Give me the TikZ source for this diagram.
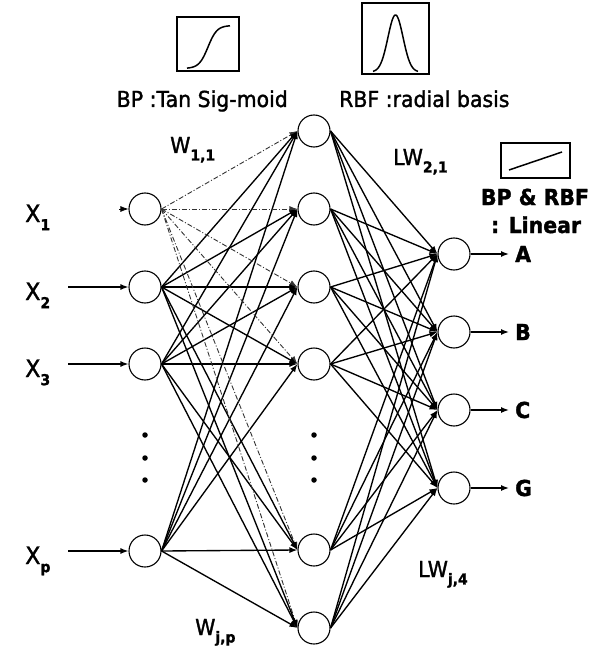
\documentclass[tikz,border=0pt]{standalone}
\usepackage{fontspec}
\setmainfont{DejaVu Sans}[FakeStretch=0.93,FakeBold=1.5]
\usetikzlibrary{arrows.meta}
% small bold subscript placed after a letter
\newcommand\lsub[1]{\raisebox{-0.34em}{\fontsize{15}{15}\selectfont\bfseries #1}}
\begin{document}
\begin{tikzpicture}[x=1pt,y=-1pt,
  neuron/.style={circle,draw,line width=1.1pt,minimum size=32pt,inner sep=0pt,fill=white},
  link/.style={line width=1.35pt,-{Latex[length=8pt,width=6pt]}},
  weak/.style={line width=0.9pt,black!80,dash pattern=on 5pt off 2pt on 1pt off 2pt,-{Latex[length=8pt,width=6pt]}},
  lbl/.style={font=\fontsize{22}{22}\selectfont,inner sep=0pt},
  xlbl/.style={font=\fontsize{24}{24}\selectfont,inner sep=0pt,anchor=base west},
  olbl/.style={font=\fontsize{22}{22}\selectfont\bfseries,inner sep=0pt,anchor=west},
  fbox/.style={draw,line width=1.2pt},
  curve/.style={line width=1.5pt},
  dot/.style={circle,fill,inner sep=0pt,minimum size=5.5pt}]
\useasboundingbox (0,0) rectangle (600,647);

% input layer
\node[neuron] (i1) at (145,209) {};
\node[neuron] (i2) at (145,287) {};
\node[neuron] (i3) at (145,364) {};
\node[neuron] (ip) at (145,551) {};
% hidden layer
\node[neuron] (h1) at (314,131) {};
\node[neuron] (h2) at (314,209) {};
\node[neuron] (h3) at (314,287) {};
\node[neuron] (h4) at (314,364) {};
\node[neuron] (h5) at (314,550) {};
\node[neuron] (h6) at (314,628) {};
% output layer
\node[neuron] (oA) at (454,254) {};
\node[neuron] (oB) at (454,332) {};
\node[neuron] (oC) at (454,410) {};
\node[neuron] (oG) at (454,488) {};

% ellipsis dots in the input and hidden columns
\foreach \yy [count=\k] in {435,458,480} {
  \node[dot] (di\k) at (145,\yy) {};
  \node[dot] (dh\k) at (314,\yy) {};
}

% input labels and input arrows
\node[xlbl] (lx1) at (25,222) {X\lsub{1}};
\node[xlbl] (lx2) at (25,300) {X\lsub{2}};
\node[xlbl] (lx3) at (25,377) {X\lsub{3}};
\node[xlbl] (lxp) at (25,564) {X\lsub{p}};
\coordinate (s1) at (119,209);
\coordinate (s2) at (68,287);
\coordinate (s3) at (68,364);
\coordinate (sp) at (68,551);
\draw[link,line width=0.8pt] (s1) -- (i1.west);
\draw[link] (s2) -- (i2.west);
\draw[link] (s3) -- (i3.west);
\draw[link] (sp) -- (ip.west);

% input -> hidden weights
\foreach \h in {h1,h2,h3,h4,h5,h6} {
  \draw[weak] (i1.east) -- (\h.west);
  \foreach \i in {i2,i3,ip}
    \draw[link] (\i.east) -- (\h.west);
}
% hidden -> output weights
\foreach \h in {h1,h2,h3,h4,h5,h6}
  \foreach \o in {oA,oB,oC,oG}
    \draw[link] (\h.east) -- (\o.west);

% outputs
\coordinate (eA) at (509,254);
\coordinate (eB) at (509,332);
\coordinate (eC) at (509,410);
\coordinate (eG) at (509,488);
\draw[link] (oA.east) -- (eA);
\draw[link] (oB.east) -- (eB);
\draw[link] (oC.east) -- (eC);
\draw[link] (oG.east) -- (eG);
\node[olbl] (tA) at (515,254) {A};
\node[olbl] (tB) at (515,332) {B};
\node[olbl] (tC) at (515,410) {C};
\node[olbl] (tG) at (515,488) {G};

% weight labels
\node[lbl,anchor=base west] (w11) at (170,153) {W\lsub{1,1}};
\node[lbl,anchor=base west] (lw21) at (393,165) {LW\lsub{2,1}};
\node[lbl,anchor=base west] (wjp) at (195,635) {W\lsub{j,p}};
\node[lbl,anchor=base west] (lwj4) at (418,577) {LW\lsub{j,4}};

% transfer function boxes
\draw[fbox] (177,17) rectangle (239,71);
\draw[curve] plot[domain=187:230,samples=60] (\x,{47-21.5*tanh((\x-208)/9)});
\node[lbl,anchor=base east] (tsig) at (288,107) {BP :Tan Sig-moid};

\draw[fbox] (362,3) rectangle (429,74);
\draw[curve] plot[domain=373:418,samples=80] (\x,{72-57*exp(-((\x-395.5)/10.7)^2)});
\node[lbl,anchor=base west] (trbf) at (339,107) {RBF :radial basis};

\draw[fbox] (501,143) rectangle (570,178);
\draw[curve] (509,170) -- (562,152);
\node[lbl,font=\fontsize{22}{22}\selectfont\bfseries,anchor=base] (tlin1) at (535,205) {BP \& RBF};
\node[lbl,font=\fontsize{22}{22}\selectfont\bfseries,anchor=base] (tlin2) at (536,233) {: Linear};
\end{tikzpicture}
\end{document}
